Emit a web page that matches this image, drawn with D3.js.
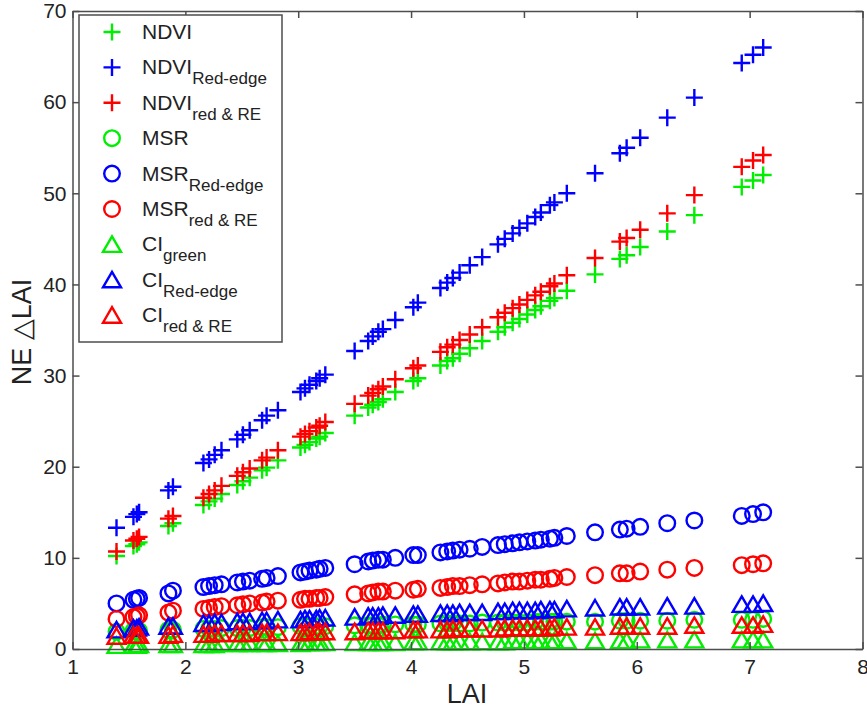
<!DOCTYPE html>
<html>
<head>
<meta charset="utf-8">
<script src="https://cdn.jsdelivr.net/npm/d3@7"></script>
<style>
  body { margin: 0; background: #fff; }
  text { font-family: "Liberation Sans", Arial, sans-serif; fill: #222; }
</style>
</head>
<body>
<div id="chart"></div>
<script>
var lai = [
  1.39,1.54,1.57,1.59,1.85,1.89,2.16,2.21,2.26,2.32,2.46,
  2.51,2.57,2.68,2.72,2.82,3.02,3.06,3.10,3.16,3.19,3.24,
  3.50,3.62,3.66,3.71,3.75,3.86,4.02,4.06,4.26,4.32,4.37,
  4.43,4.52,4.63,4.77,4.83,4.90,4.96,5.03,5.10,5.15,5.23,
  5.27,5.38,5.63,5.85,5.91,6.03,6.27,6.51,6.93,7.03,7.12
];

var ndvi = [
  10.2,11.3,11.5,11.7,13.5,13.8,15.8,16.2,16.5,17.0,18.0,
  18.4,18.8,19.6,19.9,20.7,22.1,22.4,22.7,23.1,23.3,23.7,
  25.6,26.5,26.8,27.1,27.4,28.2,29.4,29.7,31.1,31.6,31.9,
  32.4,33.0,33.8,34.8,35.3,35.8,36.2,36.7,37.2,37.6,38.2,
  38.5,39.3,41.1,42.8,43.2,44.1,45.8,47.6,50.7,51.4,52.0
];
var ndviRE = [
  13.3,14.5,14.8,15.0,17.4,17.8,20.4,20.8,21.3,21.8,23.0,
  23.5,24.0,25.1,25.6,26.2,28.2,28.6,29.0,29.4,29.7,30.1,
  32.7,33.8,34.3,34.8,35.1,36.1,37.5,38.0,39.6,40.2,40.7,
  41.3,42.1,43.0,44.4,45.0,45.6,46.2,46.7,47.4,47.9,48.7,
  49.0,50.0,52.2,54.4,55.0,56.1,58.3,60.5,64.3,65.2,66.0
];
var ndviRedRE = [
  10.7,11.9,12.1,12.3,14.3,14.6,16.6,17.0,17.4,17.9,19.0,
  19.4,19.8,20.7,21.0,21.8,23.3,23.6,23.9,24.3,24.5,24.9,
  26.9,27.8,28.1,28.5,28.8,29.6,30.8,31.1,32.6,33.1,33.4,
  33.9,34.5,35.3,36.4,36.9,37.4,37.8,38.3,38.8,39.2,39.8,
  40.1,41.0,42.9,44.7,45.1,46.0,47.8,49.8,52.9,53.6,54.2
];
var msr = [
  1.9,2.0,2.0,2.0,2.1,2.1,2.2,2.2,2.2,2.3,2.3,
  2.3,2.3,2.4,2.4,2.4,2.5,2.5,2.5,2.5,2.5,2.5,
  2.6,2.6,2.6,2.6,2.7,2.7,2.7,2.7,2.8,2.8,2.8,
  2.8,2.8,2.9,2.9,2.9,2.9,2.9,2.9,3.0,3.0,3.0,
  3.0,3.0,3.0,3.1,3.1,3.1,3.1,3.2,3.2,3.2,3.3
];
var msrRE = [
  5.0,5.4,5.5,5.6,6.1,6.4,6.8,6.9,7.0,7.1,7.3,
  7.4,7.5,7.7,7.8,8.0,8.4,8.5,8.6,8.7,8.8,8.9,
  9.3,9.6,9.7,9.8,9.8,10.0,10.3,10.3,10.6,10.7,10.8,
  10.9,11.0,11.2,11.4,11.5,11.6,11.7,11.8,11.9,12.0,12.1,
  12.2,12.4,12.8,13.1,13.2,13.4,13.8,14.1,14.6,14.8,15.0
];
var msrRedRE = [
  3.3,3.5,3.6,3.7,4.0,4.2,4.4,4.5,4.6,4.7,4.8,
  4.9,5.0,5.1,5.2,5.3,5.4,5.5,5.5,5.6,5.6,5.7,
  6.0,6.1,6.2,6.3,6.3,6.4,6.5,6.6,6.7,6.8,6.9,
  6.9,7.0,7.1,7.2,7.3,7.4,7.4,7.5,7.6,7.6,7.7,
  7.8,7.9,8.1,8.3,8.3,8.5,8.7,8.9,9.2,9.3,9.4
];
var ciGreen = [
  0.4,0.4,0.4,0.5,0.5,0.5,0.5,0.5,0.5,0.6,0.6,
  0.6,0.6,0.6,0.6,0.6,0.6,0.7,0.7,0.7,0.7,0.7,
  0.7,0.7,0.7,0.7,0.7,0.7,0.8,0.8,0.8,0.8,0.8,
  0.8,0.8,0.8,0.8,0.8,0.9,0.9,0.9,0.9,0.9,0.9,
  0.9,0.9,0.9,0.9,0.9,1.0,1.0,1.0,1.0,1.0,1.0
];
var ciRE = [
  2.1,2.3,2.3,2.4,2.5,2.5,2.8,2.8,2.9,2.9,3.0,
  3.0,3.0,3.1,3.1,3.2,3.2,3.3,3.3,3.3,3.4,3.4,
  3.5,3.6,3.6,3.6,3.7,3.7,3.8,3.8,3.9,3.9,3.9,
  4.0,4.0,4.0,4.1,4.1,4.2,4.2,4.2,4.2,4.3,4.3,
  4.3,4.4,4.5,4.6,4.6,4.6,4.7,4.7,4.9,4.9,5.0
];
var ciRedRE = [
  1.4,1.5,1.5,1.5,1.5,1.6,1.6,1.6,1.7,1.7,1.7,
  1.7,1.7,1.8,1.8,1.8,1.8,1.8,1.9,1.9,1.9,1.9,
  1.9,2.0,2.0,2.0,2.0,2.0,2.1,2.1,2.1,2.1,2.2,
  2.2,2.2,2.2,2.2,2.3,2.3,2.3,2.3,2.3,2.3,2.3,
  2.4,2.4,2.4,2.5,2.5,2.5,2.5,2.6,2.6,2.6,2.7
];

var xTicks = [1, 2, 3, 4, 5, 6, 7, 8];
var yTicks = [0, 10, 20, 30, 40, 50, 60, 70];

var green = '#00ee00', blue = '#0000ff', red = '#ff0000';

var series = [
  {name: 'NDVI', sub: '', values: ndvi, color: green, marker: 'plus'},
  {name: 'NDVI', sub: 'Red-edge', values: ndviRE, color: blue, marker: 'plus'},
  {name: 'NDVI', sub: 'red & RE', values: ndviRedRE, color: red, marker: 'plus'},
  {name: 'MSR', sub: '', values: msr, color: green, marker: 'circle'},
  {name: 'MSR', sub: 'Red-edge', values: msrRE, color: blue, marker: 'circle'},
  {name: 'MSR', sub: 'red & RE', values: msrRedRE, color: red, marker: 'circle'},
  {name: 'CI', sub: 'green', values: ciGreen, color: green, marker: 'triangle'},
  {name: 'CI', sub: 'Red-edge', values: ciRE, color: blue, marker: 'triangle'},
  {name: 'CI', sub: 'red & RE', values: ciRedRE, color: red, marker: 'triangle'}
];

var svgWidth = 867, svgHeight = 709;
var plotLeft = 72.5, plotRight = 862.5, plotTop = 11, plotBottom = 649;

var x = d3.scaleLinear().domain([1, 8]).range([plotLeft, plotRight]);
var y = d3.scaleLinear().domain([0, 70]).range([plotBottom, plotTop]);

var svg = d3.select('#chart').append('svg')
  .attr('width', svgWidth).attr('height', svgHeight);

var axisColor = '#4d4d4d';

// marker shapes
function markerPath(type) {
  if (type === 'plus') return 'M-8.5,0H8.5M0,-8.5V8.5';
  if (type === 'circle') return d3.arc()({innerRadius: 0, outerRadius: 7.8, startAngle: 0, endAngle: 2 * Math.PI});
  return 'M0,-8L9,7.5L-9,7.5Z';
}

var plot = svg.append('g');
series.forEach(function(s) {
  plot.append('g').selectAll('path')
    .data(lai)
    .enter()
    .append('path')
    .attr('transform', function(d, i) {
      return 'translate(' + x(d) + ',' + y(s.values[i]) + ')';
    })
    .attr('d', markerPath(s.marker))
    .attr('fill', 'none')
    .attr('stroke', s.color)
    .attr('stroke-width', 2.4);
});

// axes box with inward ticks on all sides
svg.append('g').attr('transform', 'translate(0,' + plotBottom + ')')
  .call(d3.axisBottom(x).tickValues(xTicks).tickSizeInner(-7).tickSizeOuter(0).tickPadding(10).tickFormat(d3.format('d')));
svg.append('g').attr('transform', 'translate(0,' + plotTop + ')')
  .call(d3.axisTop(x).tickValues(xTicks).tickSizeInner(-7).tickSizeOuter(0).tickFormat(''));
svg.append('g').attr('transform', 'translate(' + plotLeft + ',0)')
  .call(d3.axisLeft(y).tickValues(yTicks).tickSizeInner(-7).tickSizeOuter(0).tickPadding(6).tickFormat(d3.format('d')));
svg.append('g').attr('transform', 'translate(' + plotRight + ',0)')
  .call(d3.axisRight(y).tickValues(yTicks).tickSizeInner(-7).tickSizeOuter(0).tickFormat(''));

svg.selectAll('.domain, .tick line').attr('stroke', axisColor).attr('stroke-width', 1.5);
svg.selectAll('.tick text').attr('font-size', 21).attr('fill', '#222')
  .style('font-family', '"Liberation Sans", Arial, sans-serif');

// axis titles
svg.append('text')
  .attr('x', 467).attr('y', 703)
  .attr('text-anchor', 'middle')
  .attr('font-size', 27)
  .text('LAI');
svg.append('text')
  .attr('transform', 'translate(31,332) rotate(-90)')
  .attr('text-anchor', 'middle')
  .attr('font-size', 27)
  .text('NE \u25B3LAI');

// legend
var legend = svg.append('g');
legend.append('rect')
  .attr('x', 79).attr('y', 15).attr('width', 203).attr('height', 327)
  .attr('fill', '#fff').attr('stroke', axisColor).attr('stroke-width', 1.5);

var item = legend.selectAll('g.item')
  .data(series)
  .enter()
  .append('g')
  .attr('class', 'item')
  .attr('transform', function(d, i) { return 'translate(112,' + (32 + i * 35.4) + ')'; });

item.append('path')
  .attr('d', function(d) { return markerPath(d.marker); })
  .attr('fill', 'none')
  .attr('stroke', function(d) { return d.color; })
  .attr('stroke-width', 2.4);

var label = item.append('text')
  .attr('x', 30).attr('y', 7)
  .attr('font-size', 21);
label.append('tspan').text(function(d) { return d.name; });
label.append('tspan')
  .attr('font-size', 17)
  .attr('dy', 10)
  .text(function(d) { return d.sub; });
</script>
</body>
</html>
